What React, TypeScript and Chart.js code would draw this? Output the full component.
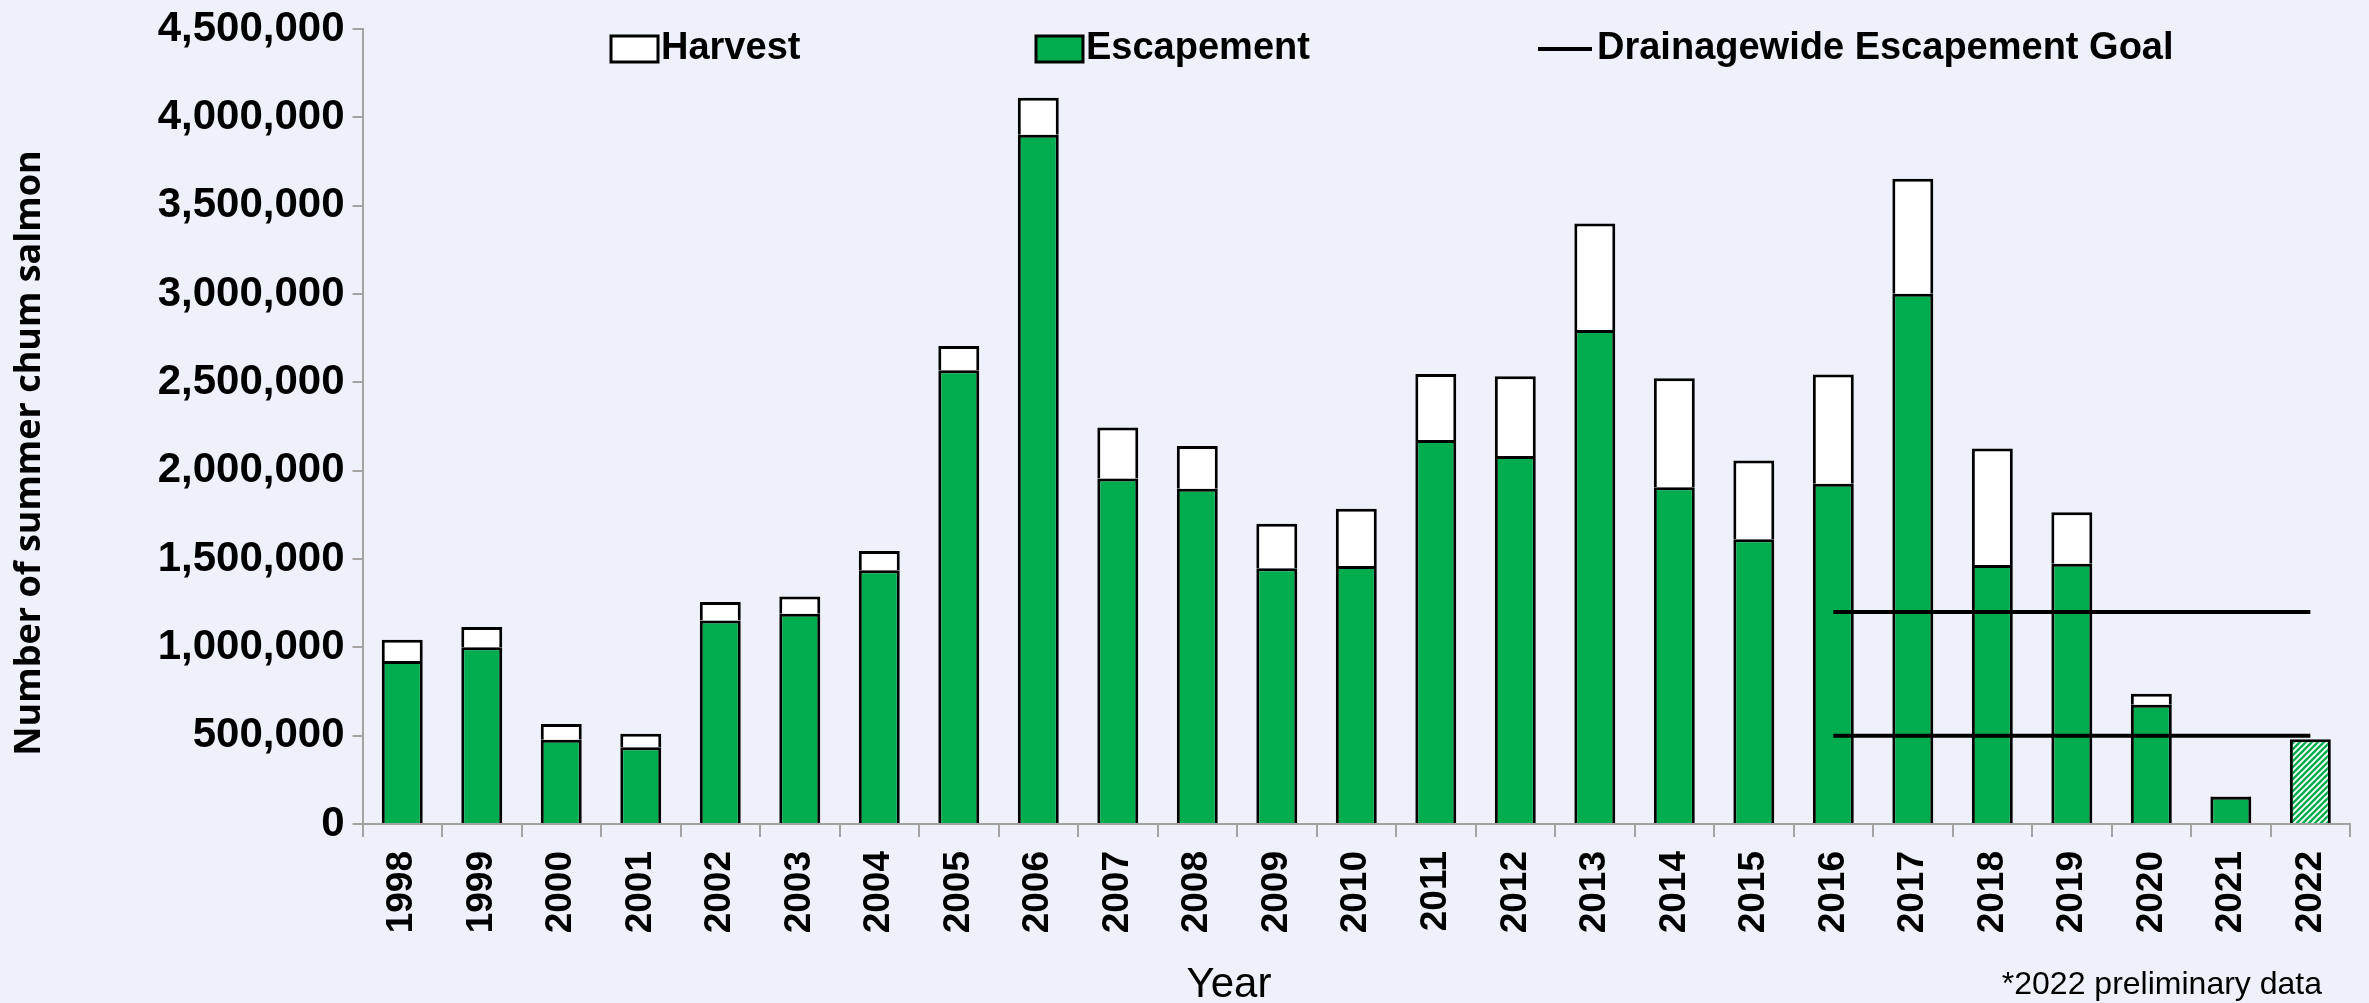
import React, { useEffect, useRef } from "react";
import { Chart, registerables } from "chart.js";

Chart.register(...registerables);

// ---- data ----
const years = [
  "1998", "1999", "2000", "2001", "2002", "2003", "2004", "2005", "2006",
  "2007", "2008", "2009", "2010", "2011", "2012", "2013", "2014", "2015",
  "2016", "2017", "2018", "2019", "2020", "2021", "2022",
];

const escapement = [
  923000, 1000000, 477000, 434000, 1152000, 1190000, 1437000, 2568000, 3902000,
  1955000, 1898000, 1447000, 1460000, 2173000, 2083000, 2796000, 1906000, 1612000,
  1926000, 3001000, 1466000, 1473000, 675000, 154000, null,
];

const harvest = [
  120000, 115000, 89000, 77000, 105000, 98000, 108000, 137000, 209000,
  289000, 241000, 252000, 325000, 374000, 451000, 603000, 617000, 446000,
  619000, 652000, 660000, 292000, 62000, 3000, null,
];

const preliminaryEscapement = [
  null, null, null, null, null, null, null, null, null,
  null, null, null, null, null, null, null, null, null,
  null, null, null, null, null, null, 480000,
];

const goalLower = [
  null, null, null, null, null, null, null, null, null,
  null, null, null, null, null, null, null, null, null,
  500000, 500000, 500000, 500000, 500000, 500000, 500000,
];

const goalUpper = [
  null, null, null, null, null, null, null, null, null,
  null, null, null, null, null, null, null, null, null,
  1200000, 1200000, 1200000, 1200000, 1200000, 1200000, 1200000,
];

const yMin = 0;
const yMax = 4500000;
const yStep = 500000;

const yTitle = "Number of summer chum salmon";
const xTitle = "Year";
const footnote = "*2022 preliminary data";

// ---- styles ----
const GREEN = "#00AD4E";
const BG = "#EEF1F9";
const AXIS = "#A3A3A3";
const W = 2369;
const H = 1003;

export default function App() {
  const ref = useRef<HTMLCanvasElement | null>(null);

  useEffect(() => {
    const canvas = ref.current;
    if (!canvas) return;
    const ctx = canvas.getContext("2d");
    if (!ctx) return;

    document.body.style.margin = "0";
    document.body.style.background = BG;

    // hatch pattern for preliminary 2022 bar
    const tile = document.createElement("canvas");
    tile.width = 6;
    tile.height = 6;
    const tg = tile.getContext("2d")!;
    tg.fillStyle = "#ffffff";
    tg.fillRect(0, 0, 6, 6);
    tg.strokeStyle = GREEN;
    tg.lineWidth = 2.4;
    tg.beginPath();
    tg.moveTo(-1, 7);
    tg.lineTo(7, -1);
    tg.moveTo(-4, 4);
    tg.lineTo(4, -4);
    tg.moveTo(2, 10);
    tg.lineTo(10, 2);
    tg.stroke();
    const hatch = ctx.createPattern(tile, "repeat") || GREEN;

    const overlay = {
      id: "overlay",
      beforeDraw(chart: any) {
        const c = chart.ctx;
        c.save();
        c.fillStyle = BG;
        c.fillRect(0, 0, chart.width, chart.height);
        c.restore();
      },
      afterDraw(chart: any) {
        const c = chart.ctx;
        const ds = chart.data.datasets;
        c.save();
        c.fillStyle = "#000";
        c.textBaseline = "middle";
        c.textAlign = "left";
        c.font = "bold 38px 'Liberation Sans', Arial, sans-serif";
        const ly = 49;
        const by = 36;
        // Harvest
        c.fillStyle = "#ffffff";
        c.fillRect(611, by, 47, 26);
        c.strokeStyle = "#000";
        c.lineWidth = 3;
        c.strokeRect(611, by, 47, 26);
        c.fillStyle = "#000";
        c.fillText(ds[1].label, 661, ly);
        // Escapement
        c.fillStyle = GREEN;
        c.fillRect(1036, by, 47, 26);
        c.strokeRect(1036, by, 47, 26);
        c.fillStyle = "#000";
        c.fillText(ds[0].label, 1086, ly);
        // Goal
        c.beginPath();
        c.lineWidth = 4;
        c.moveTo(1538, ly);
        c.lineTo(1592, ly);
        c.stroke();
        c.fillText(ds[3].label, 1597, ly);

        // y title
        c.save();
        c.translate(30, 453);
        c.rotate(-Math.PI / 2);
        c.textAlign = "center";
        c.font = "bold 36px 'Open Sans', 'Liberation Sans', sans-serif";
        c.fillText(yTitle, 0, 0);
        c.restore();

        // x title
        c.textAlign = "center";
        c.font = "42px 'Liberation Sans', Arial, sans-serif";
        c.fillText(xTitle, 1229, 985);

        // footnote
        c.textAlign = "right";
        c.font = "32px 'Liberation Sans', Arial, sans-serif";
        c.fillText(footnote, 2322, 985);
        c.restore();
      },
    };

    const barCommon = {
      borderColor: "#000000",
      borderWidth: 3,
      barPercentage: 0.515,
      categoryPercentage: 1,
      stack: "bars",
      order: 2,
    };

    const chart = new Chart(ctx, {
      type: "bar",
      data: {
        labels: years,
        datasets: [
          {
            ...barCommon,
            type: "bar",
            label: "Escapement",
            data: escapement,
            backgroundColor: GREEN,
          },
          {
            ...barCommon,
            type: "bar",
            label: "Harvest",
            data: harvest,
            backgroundColor: "#ffffff",
          },
          {
            ...barCommon,
            type: "bar",
            label: "Escapement (preliminary)",
            data: preliminaryEscapement,
            backgroundColor: hatch as any,
          },
          {
            type: "line",
            label: "Drainagewide Escapement Goal",
            data: goalUpper,
            borderColor: "#000000",
            borderWidth: 4,
            pointRadius: 0,
            fill: false,
            stack: "goalUpper",
            order: 0,
          },
          {
            type: "line",
            label: "Drainagewide Escapement Goal (lower)",
            data: goalLower,
            borderColor: "#000000",
            borderWidth: 4,
            pointRadius: 0,
            fill: false,
            stack: "goalLower",
            order: 0,
          },
        ] as any,
      },
      options: {
        animation: false,
        responsive: true,
        maintainAspectRatio: false,
        layout: { padding: { left: 0, right: 13, top: 26, bottom: 0 } },
        plugins: {
          legend: { display: false },
          tooltip: { enabled: false },
          title: { display: false },
        },
        scales: {
          x: {
            stacked: true,
            afterFit: (scale: any) => {
              scale.height = 179;
            },
            border: { display: true, color: AXIS, width: 2 },
            grid: {
              display: true,
              drawOnChartArea: false,
              drawTicks: true,
              tickLength: 13,
              color: AXIS,
              lineWidth: 2,
              offset: true,
            },
            ticks: {
              autoSkip: false,
              minRotation: 90,
              maxRotation: 90,
              padding: 14,
              color: "#000",
              font: { family: "'Liberation Sans', Arial, sans-serif", size: 37, weight: "bold" },
            },
          },
          y: {
            stacked: true,
            min: yMin,
            max: yMax,
            afterFit: (scale: any) => {
              scale.width = 362.5;
            },
            border: { display: true, color: AXIS, width: 2 },
            grid: {
              display: true,
              drawOnChartArea: false,
              drawTicks: true,
              tickLength: 10,
              color: AXIS,
              lineWidth: 2,
            },
            ticks: {
              stepSize: yStep,
              padding: 8,
              color: "#000",
              font: { family: "'Liberation Sans', Arial, sans-serif", size: 42, weight: "bold", lineHeight: 1 },
              callback: (v: any) => Number(v).toLocaleString("en-US"),
            },
          },
        },
      },
      plugins: [overlay],
    } as any);

    return () => chart.destroy();
  }, []);

  return (
    <div style={{ position: "absolute", left: 0, top: 0, width: W, height: H, background: BG }}>
      <canvas ref={ref} style={{ display: "block" }} />
    </div>
  );
}
